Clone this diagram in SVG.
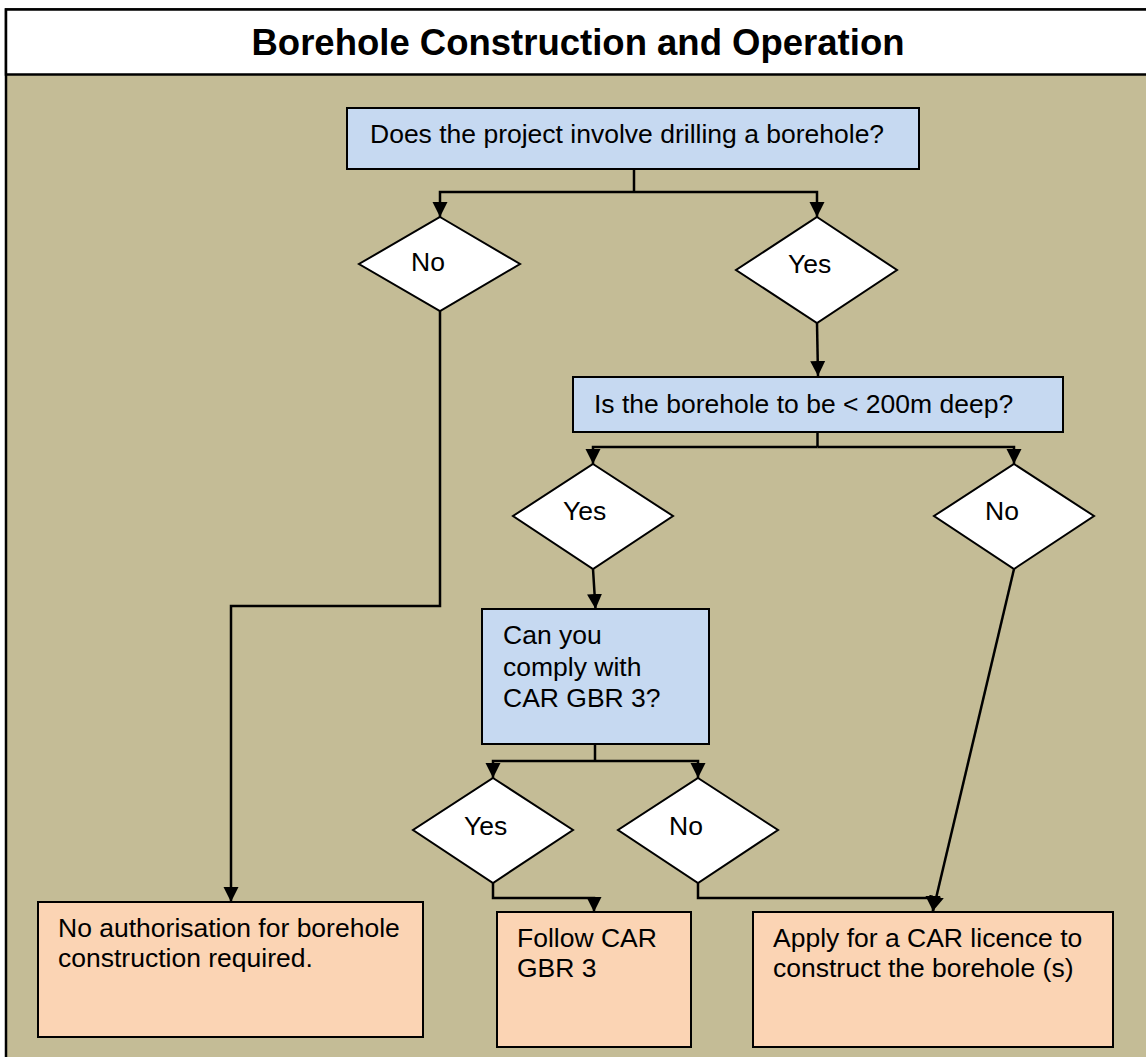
<svg xmlns="http://www.w3.org/2000/svg" width="1146" height="1057" viewBox="0 0 1146 1057">
<defs>
<style>
text{font-family:"Liberation Sans",Arial,sans-serif;fill:#000}
.t{font-size:26.5px}
.title{font-size:36.5px;font-weight:bold}
.q{fill:#C6D9F1;stroke:#000;stroke-width:2}
.r{fill:#FBD4B4;stroke:#000;stroke-width:2}
.d{fill:#fff;stroke:#000;stroke-width:2}
.c{fill:none;stroke:#000;stroke-width:2.5}
.ca{fill:none;stroke:#000;stroke-width:2.5;marker-end:url(#ah)}
</style>
<marker id="ah" markerUnits="userSpaceOnUse" markerWidth="16" markerHeight="16" viewBox="0 0 16 16" refX="15" refY="8" orient="auto">
<path d="M0,0.5 L15,8 L0,15.5 Z" fill="#000"/>
</marker>
</defs>
<rect x="0" y="0" width="1146" height="1057" fill="#fff"/>
<g id="frame">
<rect x="6" y="9.5" width="1150" height="1060" fill="#C4BC96" stroke="#000" stroke-width="2.5"/>
<rect x="6" y="9.5" width="1150" height="65" fill="#fff" stroke="#000" stroke-width="2.5"/>
<text class="title" x="578" y="55" text-anchor="middle">Borehole Construction and Operation</text>
</g>
<g id="connectors">
<path class="c" d="M634,169 V192"/>
<path class="ca" d="M634,192 H440 V217"/>
<path class="ca" d="M634,192 H817 V217"/>
<path class="ca" d="M440,311 V606 H231 V902"/>
<path class="ca" d="M817,323 L818,376"/>
<path class="c" d="M817.5,432 V447"/>
<path class="ca" d="M817.5,447 H593 V464"/>
<path class="ca" d="M817.5,447 H1014 V464"/>
<path class="ca" d="M593,569 L595.5,609"/>
<path class="c" d="M595,744 V761"/>
<path class="ca" d="M595,761 H493 V778"/>
<path class="ca" d="M595,761 H698 V778"/>
<path class="ca" d="M493,883 V898 H594 V912"/>
<path class="ca" d="M698,883 V898 H933 V911"/>
<path class="ca" d="M1014,569 L933,911"/>
</g>
<g id="q1">
<rect class="q" x="347" y="108" width="572" height="61"/>
<text class="t" x="370" y="143">Does the project involve drilling a borehole?</text>
</g>
<g id="d-no1">
<polygon class="d" points="440,217 520,264 440,311 359,264"/>
<text class="t" x="411" y="271">No</text>
</g>
<g id="d-yes1">
<polygon class="d" points="817,217 897,270 817,323 736,270"/>
<text class="t" x="788" y="273">Yes</text>
</g>
<g id="q2">
<rect class="q" x="573" y="377" width="490" height="55"/>
<text class="t" x="594" y="413">Is the borehole to be &lt; 200m deep?</text>
</g>
<g id="d-yes2">
<polygon class="d" points="593,464 673,516 593,569 513,516"/>
<text class="t" x="563" y="520">Yes</text>
</g>
<g id="d-no2">
<polygon class="d" points="1014,464 1094,516 1014,569 934,516"/>
<text class="t" x="985" y="520">No</text>
</g>
<g id="q3">
<rect class="q" x="482" y="609" width="227" height="135"/>
<text class="t" x="503" y="644">Can you</text>
<text class="t" x="503" y="676">comply with</text>
<text class="t" x="503" y="707">CAR GBR 3?</text>
</g>
<g id="d-yes3">
<polygon class="d" points="493,778 573,830 493,883 413,830"/>
<text class="t" x="464" y="835">Yes</text>
</g>
<g id="d-no3">
<polygon class="d" points="698,778 778,830 698,883 618,830"/>
<text class="t" x="669" y="835">No</text>
</g>
<g id="r-none">
<rect class="r" x="38" y="902" width="385" height="135"/>
<text class="t" x="58" y="937">No authorisation for borehole</text>
<text class="t" x="58" y="967">construction required.</text>
</g>
<g id="r-follow">
<rect class="r" x="497" y="912" width="194" height="135"/>
<text class="t" x="517" y="947">Follow CAR</text>
<text class="t" x="517" y="977">GBR 3</text>
</g>
<g id="r-apply">
<rect class="r" x="753" y="912" width="360" height="135"/>
<text class="t" x="773" y="947">Apply for a CAR licence to</text>
<text class="t" x="773" y="977">construct the borehole (s)</text>
</g>
</svg>
